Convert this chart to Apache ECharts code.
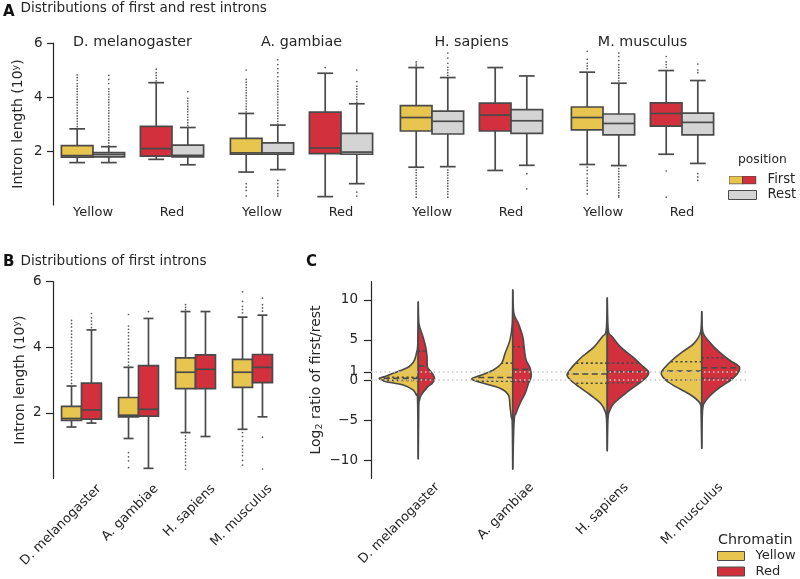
<!DOCTYPE html>
<html><head><meta charset="utf-8">
<script src="https://cdn.jsdelivr.net/npm/echarts@6/dist/echarts.min.js"></script>
<style>html,body{margin:0;padding:0;background:#fff}#c{width:800px;height:579px}</style>
</head><body><div id="c"></div>
<script>
// ---------------- DATA ----------------
const species = ['D. melanogaster', 'A. gambiae', 'H. sapiens', 'M. musculus'];
const chromatin = ['Yellow', 'Red'];
const positions = ['First', 'Rest'];
const yTicksAB = [2, 4, 6];
const yTicksC = [-10, -5, 0, 1, 5, 10];
const refLinesC = [0, 1];

// box summaries (log10 intron length): [lower whisker, Q1, median, Q3, upper whisker], one per species
const firstYellow = [[1.57,1.77,1.83,2.20,2.82],[1.22,1.88,1.93,2.47,3.39],[1.40,2.74,3.24,3.68,5.09],[1.50,2.78,3.24,3.63,4.92]];
const firstRed    = [[1.69,1.81,2.09,2.91,4.53],[0.31,1.90,2.11,3.44,4.88],[1.28,2.74,3.33,3.77,5.09],[1.88,2.92,3.39,3.78,4.98]];
const restYellow  = [[1.57,1.78,1.87,1.94,2.16],[1.31,1.88,1.93,2.30,2.96],[1.42,2.63,3.10,3.48,4.72],[1.46,2.60,3.02,3.37,4.51]];
const restRed     = [[1.49,1.78,1.84,2.22,2.87],[0.79,1.88,1.96,2.65,3.75],[1.47,2.65,3.12,3.53,4.78],[1.54,2.60,3.06,3.40,4.61]];

// outliers, one list per species
const firstYellowOut = [
  [2.9,3.0,3.1,3.2,3.3,3.4,3.5,3.6,3.7,3.8,3.9,4.0,4.1,4.2,4.3,4.4,4.5,4.62,4.72,4.82],
  [3.45,3.55,3.65,3.75,3.85,3.95,4.05,4.15,4.25,4.35,4.45,4.55,4.65,5.0,0.79,0.66,0.54,0.33],
  [5.15,5.22,5.3,1.3,1.2,1.1,1.0,0.9,0.8,0.7,0.6,0.5,0.4,0.29],
  [5.05,5.15,5.25,5.4,5.69,1.4,1.28,1.15,1.0,0.9,0.8,0.7,0.55,0.41]
];
const firstRedOut = [
  [4.6,4.7,4.8,4.9,5.03],
  [5.09],
  [],
  [5.1,5.2,5.3,5.5,1.26,0.29]
];
const restYellowOut = [
  [2.2,2.3,2.4,2.5,2.6,2.7,2.8,2.9,3.0,3.1,3.2,3.3,3.4,3.5,3.6,3.7,3.8,3.9,4.0,4.1,4.2,4.3,4.5,4.65,4.8],
  [3.0,3.1,3.2,3.3,3.4,3.5,3.6,3.7,3.8,3.9,4.0,4.1,4.2,4.3,4.4,4.5,4.6,4.75,4.9,5.05,5.2,5.38,0.91,0.79,0.66,0.54,0.42,0.33],
  [4.8,4.9,5.0,5.1,5.25,5.44,5.63,1.3,1.2,1.1,1.0,0.9,0.8,0.7,0.6,0.5,0.4,0.29],
  [4.6,4.7,4.8,4.9,5.0,5.1,5.2,5.35,5.5,5.63,1.35,1.25,1.15,1.05,0.95,0.85,0.75,0.65,0.55,0.45,0.35,0.29]
];
const restRedOut = [
  [2.95,3.05,3.15,3.25,3.35,3.45,3.55,3.65,3.75,3.85,3.95,4.2],
  [3.8,3.9,4.0,4.1,4.2,4.3,4.4,4.57,5.0,0.48,0.33],
  [1.16,0.6],
  [4.9,5.0,5.22,1.16,1.04,0.91]
];

// violin half-profiles: [log2 ratio, half width as fraction of category band]
const violinYellow = [
  [[9.7,0],[4.6,.005],[3.5,.016],[2.5,.039],[1.9,.074],[1.46,.128],[0.83,.266],[0.45,.351],[0.21,.412],[0,.383],[-0.21,.34],[-0.62,.16],[-1.24,.056],[-1.87,.021],[-2.5,.007],[-9.8,0]],
  [[11.2,0],[7,.005],[5,.029],[3.3,.082],[2.1,.117],[1.24,.205],[0.62,.33],[0.12,.436],[-0.41,.309],[-1.03,.135],[-1.87,.046],[-3.3,.029],[-4.6,.016],[-5.4,.005],[-11.1,0]],
  [[10.2,0],[6.2,.011],[5.4,.053],[4.1,.142],[2.9,.266],[2.07,.337],[1.24,.397],[0.62,.426],[0,.39],[-0.83,.301],[-1.87,.178],[-2.9,.071],[-3.94,.021],[-5,.007],[-8.8,0]],
  [[8.5,0],[6,.011],[4.56,.082],[3.5,.205],[2.49,.312],[1.66,.383],[0.83,.429],[0,.383],[-0.83,.277],[-1.87,.117],[-2.9,.018],[-4.1,.007],[-8.5,0]]
];
const violinRed = [
  [[9.7,0],[7.05,.007],[5.4,.05],[4.15,.078],[2.9,.093],[1.66,.096],[1.24,.12],[0.62,.16],[0.1,.173],[-0.41,.149],[-0.83,.103],[-1.87,.032],[-2.5,.014],[-3.5,.005],[-9.8,0]],
  [[11.2,0],[8.3,.012],[7.05,.06],[5.4,.106],[3.7,.124],[2.49,.141],[1.46,.184],[0.41,.195],[-0.41,.167],[-1.66,.131],[-2.9,.078],[-4.15,.035],[-5.2,.014],[-11.1,0]],
  [[10.2,0],[6.2,.011],[5.4,.053],[4.1,.142],[2.9,.266],[1.87,.362],[1.03,.436],[0.41,.418],[-0.41,.337],[-1.66,.195],[-2.9,.071],[-3.94,.021],[-5,.007],[-8.8,0]],
  [[8.5,0],[6,.011],[4.56,.096],[3.5,.184],[2.49,.291],[1.66,.397],[0.83,.38],[0,.309],[-0.83,.202],[-1.87,.096],[-2.9,.025],[-4.1,.007],[-8.5,0]]
];
// violin quartiles [Q1, median, Q3]
const quartYellow = [[-0.05,0.2,0.35],[-0.15,0.31,2.1],[-0.41,0.75,2.1],[0,1.12,2.28]];
const quartRed    = [[0.08,1.74,3.6],[-0.2,1.33,4.15],[-0.35,1.05,2.1],[0.2,1.53,2.78]];

// ---------------- STYLE ----------------
const FONT = 'DejaVu Sans';
const INK = '#262626';
const LINE = '#4a4a4a';
const YEL = '#E8C54F', RED = '#D1303C', GRY = '#D4D4D4';

const gridsA = [53.5, 222.5, 392.5, 563.5].map(l => ({left: l, top: 43, width: 158, height: 162}));
const gridB = {left: 53, top: 281.7, width: 228, height: 196.8};
const gridC = {left: 371, top: 281.7, width: 378, height: 196.6};

function boxRender(side, frac, colorFor) {
  return function (params, api) {
    const xi = api.value(0);
    const band = api.size([1, 0])[0];
    const w = band * frac;
    const cx = api.coord([xi, 0])[0] + side * w / 2;
    const y = i => api.coord([xi, api.value(i)])[1];
    const lo = y(1), q1 = y(2), md = y(3), q3 = y(4), hi = y(5);
    const ls = {stroke: LINE, lineWidth: 1.7};
    const cw = w / 4;
    return {type: 'group', children: [
      {type: 'line', shape: {x1: cx, y1: lo, x2: cx, y2: q1}, style: ls},
      {type: 'line', shape: {x1: cx, y1: q3, x2: cx, y2: hi}, style: ls},
      {type: 'line', shape: {x1: cx - cw, y1: lo, x2: cx + cw, y2: lo}, style: ls},
      {type: 'line', shape: {x1: cx - cw, y1: hi, x2: cx + cw, y2: hi}, style: ls},
      {type: 'rect', shape: {x: cx - w / 2, y: q3, width: w, height: q1 - q3},
        style: {fill: colorFor(xi), stroke: LINE, lineWidth: 1.7}},
      {type: 'line', shape: {x1: cx - w / 2, y1: md, x2: cx + w / 2, y2: md}, style: ls}
    ]};
  };
}
function outRender(side, frac) {
  return function (params, api) {
    const xi = api.value(0);
    const band = api.size([1, 0])[0];
    const w = band * frac;
    const p = api.coord([xi, api.value(1)]);
    return {type: 'circle', shape: {cx: p[0] + side * w / 2, cy: p[1], r: 0.85}, style: {fill: '#5a5a5a'}};
  };
}
function hwAt(prof, v) {
  for (let i = 0; i < prof.length - 1; i++) {
    const a = prof[i], b = prof[i + 1];
    if (v <= a[0] && v >= b[0]) {
      const t = (a[0] - v) / (a[0] - b[0]);
      return a[1] + (b[1] - a[1]) * t;
    }
  }
  return 0;
}
function violinRender(side, profiles, quarts, color) {
  return function (params, api) {
    const xi = api.value(0);
    const band = api.size([1, 0])[0];
    const cx = api.coord([xi, 0])[0];
    const prof = profiles[params.dataIndex];
    const pts = prof.map(([v, hw]) => [cx + side * hw * band, api.coord([xi, v])[1]]);
    const clampX = x => side < 0 ? Math.min(cx, x) : Math.max(cx, x);
    let d = 'M' + pts[0][0] + ',' + pts[0][1];
    for (let i = 0; i < pts.length - 1; i++) {
      const p0 = pts[Math.max(i - 1, 0)], p1 = pts[i], p2 = pts[i + 1], p3 = pts[Math.min(i + 2, pts.length - 1)];
      const c1x = clampX(p1[0] + (p2[0] - p0[0]) / 6), c1y = p1[1] + (p2[1] - p0[1]) / 6;
      const c2x = clampX(p2[0] - (p3[0] - p1[0]) / 6), c2y = p2[1] - (p3[1] - p1[1]) / 6;
      d += ' C' + c1x + ',' + c1y + ' ' + c2x + ',' + c2y + ' ' + p2[0] + ',' + p2[1];
    }
    d += ' Z';
    const children = [{type: 'path', shape: {pathData: d}, style: {fill: color, stroke: LINE, lineWidth: 1.6, lineJoin: 'round'}}];
    const q = quarts[params.dataIndex];
    q.forEach((qv, k) => {
      const yy = api.coord([xi, qv])[1];
      const hw = hwAt(prof, qv) * band;
      children.push({type: 'line', shape: {x1: cx, y1: yy, x2: cx + side * hw, y2: yy},
        style: {stroke: LINE, lineWidth: 1.6, lineDash: k === 1 ? [6, 3.5] : [2.2, 2.6]}});
    });
    return {type: 'group', children};
  };
}

const txt = (size, extra) => Object.assign({fontFamily: FONT, fontSize: size, color: INK, fontWeight: 'normal'}, extra || {});

// ---------------- AXES ----------------
const xAxes = [], yAxes = [], grids = [];
gridsA.forEach((g, i) => {
  grids.push(g);
  xAxes.push({gridIndex: i, type: 'category', data: chromatin,
    axisLine: {show: false}, axisTick: {show: false},
    axisLabel: Object.assign(txt(13), {margin: 1.5})});
  yAxes.push({gridIndex: i, type: 'value', min: 0, max: 6, show: i === 0,
    splitLine: {show: false},
    axisLine: {show: true, lineStyle: {color: INK, width: 1.2}},
    axisTick: {show: true, length: 6.5, customValues: yTicksAB, lineStyle: {color: INK, width: 1.2}},
    axisLabel: Object.assign(txt(13.5), {customValues: yTicksAB, margin: 11}),
    name: 'Intron length (10{sup|y})', nameLocation: 'middle', nameGap: 27,
    nameTextStyle: txt(14, {lineHeight: 16, rich: {sup: {fontFamily: FONT, fontSize: 9.5, color: INK, lineHeight: 9, verticalAlign: 'top'}}})});
});
grids.push(gridB);
xAxes.push({gridIndex: 4, type: 'category', data: species,
  axisLine: {show: false}, axisTick: {show: false},
  axisLabel: Object.assign(txt(13), {rotate: 45, interval: 0, margin: 26, padding: [0, -25, 0, 0]})});
yAxes.push({gridIndex: 4, type: 'value', min: 0, max: 6,
  splitLine: {show: false},
  axisLine: {show: true, lineStyle: {color: INK, width: 1.2}},
  axisTick: {show: true, length: 7, customValues: yTicksAB, lineStyle: {color: INK, width: 1.2}},
  axisLabel: Object.assign(txt(13.5), {customValues: yTicksAB, margin: 11.5}),
  name: 'Intron length (10{sup|y})', nameLocation: 'middle', nameGap: 25,
  nameTextStyle: txt(14, {lineHeight: 16, rich: {sup: {fontFamily: FONT, fontSize: 9.5, color: INK, lineHeight: 9, verticalAlign: 'top'}}})});
grids.push(gridC);
xAxes.push({gridIndex: 5, type: 'category', data: species,
  axisLine: {show: false}, axisTick: {show: false},
  axisLabel: Object.assign(txt(13), {rotate: 45, interval: 0, margin: 26, padding: [0, -27, 0, 0]})});
yAxes.push({gridIndex: 5, type: 'value', min: -12.25, max: 12.25,
  splitLine: {show: false},
  axisLine: {show: true, lineStyle: {color: INK, width: 1.2}},
  axisTick: {show: true, length: 7, customValues: yTicksC, lineStyle: {color: INK, width: 1.2}},
  axisLabel: Object.assign(txt(13.5), {customValues: yTicksC, margin: 13,
    formatter: v => v < 0 ? '\u2212' + (-v) : String(v)}),
  name: 'Log{sub|2} ratio of first/rest', nameLocation: 'middle', nameGap: 46,
  nameTextStyle: txt(14, {lineHeight: 18, rich: {sub: {fontFamily: FONT, fontSize: 9.5, color: INK, lineHeight: 9, verticalAlign: 'bottom'}}})});

// ---------------- SERIES ----------------
const series = [];
gridsA.forEach((g, i) => {
  series.push({type: 'custom', name: 'First', xAxisIndex: i, yAxisIndex: i,
    renderItem: boxRender(-1, 0.4, xi => xi === 0 ? YEL : RED),
    encode: {x: 0, y: [1, 2, 3, 4, 5]}, itemStyle: {color: YEL},
    data: [[0].concat(firstYellow[i]), [1].concat(firstRed[i])]});
  series.push({type: 'custom', name: 'Rest', xAxisIndex: i, yAxisIndex: i,
    renderItem: boxRender(1, 0.4, () => GRY),
    encode: {x: 0, y: [1, 2, 3, 4, 5]}, itemStyle: {color: GRY},
    data: [[0].concat(restYellow[i]), [1].concat(restRed[i])]});
  series.push({type: 'custom', name: 'First outliers', xAxisIndex: i, yAxisIndex: i,
    renderItem: outRender(-1, 0.4), encode: {x: 0, y: 1},
    data: firstYellowOut[i].map(v => [0, v]).concat(firstRedOut[i].map(v => [1, v]))});
  series.push({type: 'custom', name: 'Rest outliers', xAxisIndex: i, yAxisIndex: i,
    renderItem: outRender(1, 0.4), encode: {x: 0, y: 1},
    data: restYellowOut[i].map(v => [0, v]).concat(restRedOut[i].map(v => [1, v]))});
});
// panel B
series.push({type: 'custom', name: 'Yellow', xAxisIndex: 4, yAxisIndex: 4,
  renderItem: boxRender(-1, 0.35, () => YEL), encode: {x: 0, y: [1, 2, 3, 4, 5]}, itemStyle: {color: YEL},
  data: species.map((s, i) => [i].concat(firstYellow[i]))});
series.push({type: 'custom', name: 'Red', xAxisIndex: 4, yAxisIndex: 4,
  renderItem: boxRender(1, 0.35, () => RED), encode: {x: 0, y: [1, 2, 3, 4, 5]}, itemStyle: {color: RED},
  data: species.map((s, i) => [i].concat(firstRed[i]))});
series.push({type: 'custom', name: 'Yellow outliers', xAxisIndex: 4, yAxisIndex: 4,
  renderItem: outRender(-1, 0.35), encode: {x: 0, y: 1},
  data: [].concat(...firstYellowOut.map((a, i) => a.map(v => [i, v])))});
series.push({type: 'custom', name: 'Red outliers', xAxisIndex: 4, yAxisIndex: 4,
  renderItem: outRender(1, 0.35), encode: {x: 0, y: 1},
  data: [].concat(...firstRedOut.map((a, i) => a.map(v => [i, v])))});
// panel C
series.push({type: 'line', name: 'ref', xAxisIndex: 5, yAxisIndex: 5, data: [], z: 1,
  markLine: {silent: true, symbol: 'none', label: {show: false},
    lineStyle: {color: '#c9c9c9', type: [1.5, 3], width: 1.5},
    data: refLinesC.map(v => ({yAxis: v}))}});
series.push({type: 'custom', name: 'Yellow', xAxisIndex: 5, yAxisIndex: 5, z: 3,
  renderItem: violinRender(-1, violinYellow, quartYellow, YEL), encode: {x: 0, y: 1}, itemStyle: {color: YEL},
  data: species.map((s, i) => [i, 0])});
series.push({type: 'custom', name: 'Red', xAxisIndex: 5, yAxisIndex: 5, z: 3,
  renderItem: violinRender(1, violinRed, quartRed, RED), encode: {x: 0, y: 1}, itemStyle: {color: RED},
  data: species.map((s, i) => [i, 0])});

// ---------------- TITLES / LEGENDS ----------------
const bold = () => txt(15, {fontWeight: 'bold', color: '#111'});
const titles = [
  {text: 'A', left: 3, top: 4.5, padding: 0, textStyle: bold()},
  {text: 'Distributions of first and rest introns', left: 20.5, top: 1, padding: 0, textStyle: txt(13.6)},
  ...species.map((s, i) => ({text: s, left: gridsA[i].left + gridsA[i].width / 2, textAlign: 'center', top: 35.5, padding: 0, textStyle: txt(14.3)})),
  {text: 'B', left: 3, top: 254.5, padding: 0, textStyle: bold()},
  {text: 'Distributions of first introns', left: 20.5, top: 254, padding: 0, textStyle: txt(13.6)},
  {text: 'C', left: 306, top: 254.5, padding: 0, textStyle: bold()},
  {text: 'position', left: 738, top: 154, padding: 0, textStyle: txt(12.3)},
  {text: 'Chromatin', left: 718, top: 533, padding: 0, textStyle: txt(14.3)}
];
const firstSvg = '<svg xmlns="http://www.w3.org/2000/svg" width="56" height="18" viewBox="0 0 28 9">' +
  '<rect x="0.5" y="0.5" width="13.5" height="8" fill="' + YEL + '" stroke="' + LINE + '" stroke-width="0.9"/>' +
  '<rect x="14" y="0.5" width="13.5" height="8" fill="' + RED + '" stroke="' + LINE + '" stroke-width="0.9"/></svg>';
const legends = [
  {orient: 'vertical', left: 728, top: 173, padding: 0, itemGap: 1, itemWidth: 28, itemHeight: 9, selectedMode: false,
    textStyle: txt(13.2, {padding: [0, 0, 0, 6], lineHeight: 14}),
    data: [
      {name: 'First', icon: 'image://data:image/svg+xml;charset=utf-8,' + encodeURIComponent(firstSvg)},
      {name: 'Rest', icon: 'rect', itemStyle: {color: GRY, borderColor: LINE, borderWidth: 1}}
    ]},
  {orient: 'vertical', left: 717, top: 549, padding: 0, itemGap: 1.5, itemWidth: 27, itemHeight: 9, selectedMode: false,
    textStyle: txt(13, {padding: [0, 0, 0, 6], lineHeight: 14}),
    data: [
      {name: 'Yellow', icon: 'rect', itemStyle: {color: YEL, borderColor: LINE, borderWidth: 1}},
      {name: 'Red', icon: 'rect', itemStyle: {color: RED, borderColor: LINE, borderWidth: 1}}
    ]}
];

const chart = echarts.init(document.getElementById('c'), null, {renderer: 'canvas'});
chart.setOption({
  animation: false,
  backgroundColor: '#fff',
  textStyle: {fontFamily: FONT},
  title: titles,
  legend: legends,
  grid: grids,
  xAxis: xAxes,
  yAxis: yAxes,
  series: series
});
</script></body></html>
